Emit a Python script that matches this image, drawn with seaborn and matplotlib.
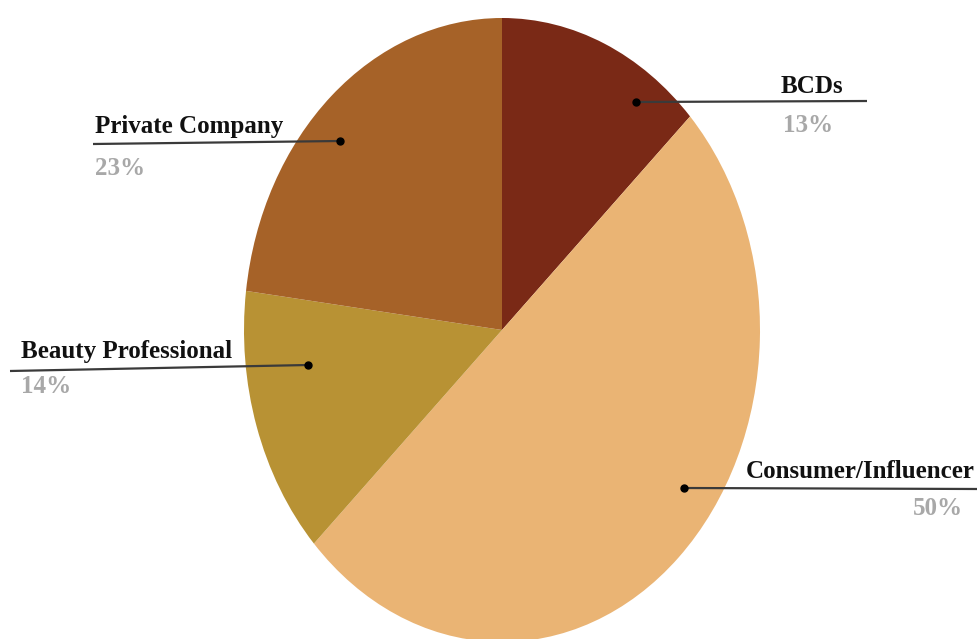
import matplotlib
matplotlib.use("Agg")
import matplotlib.pyplot as plt
import seaborn as sns

# ---- data ----
categories = ["BCDs", "Consumer/Influencer", "Beauty Professional", "Private Company"]
values = [13, 50, 14, 23]
pct_labels = ["13%", "50%", "14%", "23%"]
colors = ["#7a2916", "#eab474", "#b89234", "#a66228"]

# ---- layout (pixel positions of annotations) ----
dot_xy = [(636, 102), (684, 488), (308, 365), (340, 141)]
line_end = [(867, 101), (978, 489), (10, 371), (93, 144)]
label_xy = [(781, 93), (975, 478), (21, 358), (95, 133)]
label_ha = ["left", "right", "left", "left"]
pct_xy = [(783, 132), (963, 515), (21, 393), (95, 175)]
pct_ha = ["left", "right", "left", "left"]

sns.set_theme(style="white")
plt.rcParams["font.family"] = ["Liberation Serif", "DejaVu Serif"]

W, H = 978, 639
fig = plt.figure(figsize=(W / 100, H / 100), dpi=100)
fig.patch.set_facecolor("white")

# pie axes: ellipse centre (502, 330), rx 258, ry 312 px
cx, cy, rx, ry = 502, 330, 258, 312
ax = fig.add_axes([(cx - rx) / W, (H - cy - ry) / H, 2 * rx / W, 2 * ry / H])
ax.pie(values, colors=colors, startangle=90, counterclock=False,
       wedgeprops=dict(linewidth=0), radius=1.0)
ax.set_aspect("auto")
ax.set_xlim(-1, 1)
ax.set_ylim(-1, 1)
ax.axis("off")

# overlay axes in pixel coordinates for annotations
ov = fig.add_axes([0, 0, 1, 1])
ov.set_xlim(0, W)
ov.set_ylim(H, 0)
ov.axis("off")
ov.patch.set_alpha(0)

for i, cat in enumerate(categories):
    (dx, dy), (ex, ey) = dot_xy[i], line_end[i]
    ov.plot([dx, ex], [dy, ey], color="#3a3a3a", lw=1.6, solid_capstyle="butt")
    ov.plot([dx], [dy], marker="o", ms=5, color="black")
    lx, ly = label_xy[i]
    ov.text(lx, ly, cat, ha=label_ha[i], va="baseline", fontsize=18,
            fontweight="bold", color="#111111")
    px, py = pct_xy[i]
    ov.text(px, py, pct_labels[i], ha=pct_ha[i], va="baseline", fontsize=18,
            fontweight="bold", color="#a8a8a8")

fig.savefig("out.png", dpi=100, facecolor="white")
